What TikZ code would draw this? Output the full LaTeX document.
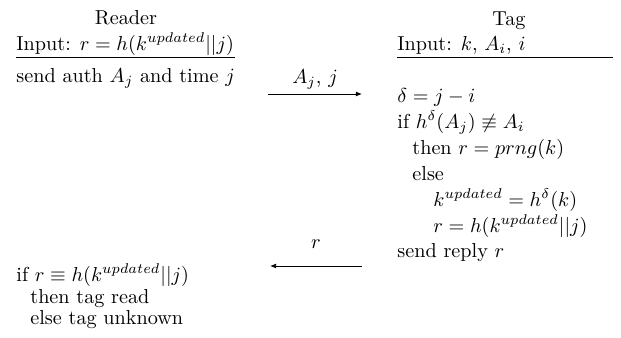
\documentclass[tikz,border=0pt]{standalone}
\usepackage{amsmath,amssymb}
\usetikzlibrary{positioning, arrows.meta}

\begin{document}
\begin{tikzpicture}[
  x=0.495pt, y=-0.495pt,
  head/.style={anchor=base, inner sep=0pt},
  row/.style={anchor=base west, inner sep=0pt},
  msg/.style={-{Latex[length=3pt, width=2.4pt]}, thin},
  msglabel/.style={midway, anchor=base, inner sep=0pt}
]
  \useasboundingbox (0,0) rectangle (621,337);

  % reader side
  \node[head] (reader) at (126,24) {Reader};
  \node[row] (rin) at (16,50) {Input: $r = h(k^{updated}||j)$};
  \node[row] (rsend) at (16,82) {send auth $A_j$ and time $j$};
  \node[row] (rif) at (16,281) {if $r \equiv h(k^{updated}||j)$};
  \node[row] (rthen) at (30,303) {then tag read};
  \node[row] (relse) at (30,324) {else tag unknown};

  % tag side
  \node[head] (tag) at (509,25) {Tag};
  \node[row] (tin) at (397,50) {Input: $k$, $A_i$, $i$};
  \node[row] (tdelta) at (397,102) {$\delta = j - i$};
  \node[row] (tif) at (397,128) {if $h^{\delta}(A_j) \not\equiv A_i$};
  \node[row] (tthen) at (412,154) {then $r = prng(k)$};
  \node[row] (telse) at (412,180) {else};
  \node[row] (tkey) at (433,206) {$k^{updated} = h^{\delta}(k)$};
  \node[row] (tr) at (433,232) {$r = h(k^{updated}||j)$};
  \node[row] (tsend) at (397,257) {send reply $r$};

  % rules under the inputs
  \coordinate (ru0) at (16,57.5);
  \coordinate (ru1) at (235,57.5);
  \coordinate (tu0) at (397,57.5);
  \coordinate (tu1) at (613,57.5);
  \draw (ru0) -- (ru1);
  \draw (tu0) -- (tu1);

  % messages
  \coordinate (m1a) at (268,94);
  \coordinate (m1b) at (362,94);
  \coordinate (m2a) at (362,266);
  \coordinate (m2b) at (270,266);
  \draw[msg] (m1a) -- node[msglabel, yshift=5.4pt] (l1) {$A_j$, $j$} (m1b);
  \draw[msg] (m2a) -- node[msglabel, yshift=8.6pt] (l2) {$r$} (m2b);
\end{tikzpicture}
\end{document}
